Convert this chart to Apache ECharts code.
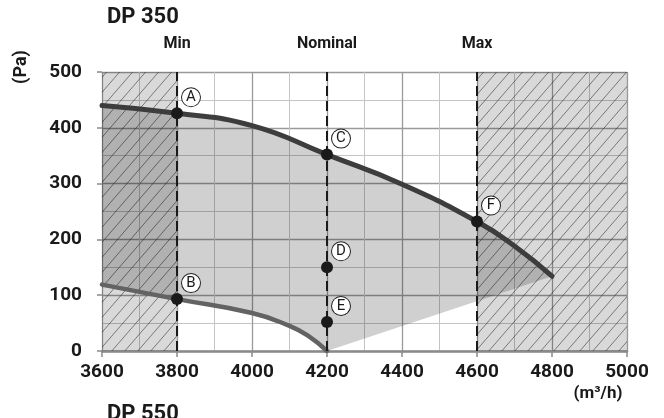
<!DOCTYPE html>
<html>
<head>
<meta charset="utf-8">
<script src="https://cdn.jsdelivr.net/npm/echarts@6/dist/echarts.min.js"></script>
<style>
html,body{margin:0;padding:0;background:#fff;}
#chart{width:664px;height:418px;}
</style>
</head>
<body>
<div id="chart"></div>
<script>
// ---- data ----
const upperFlow = [3600, 3800, 4000, 4200, 4400, 4600, 4700, 4800];
const upperPressure = [440, 426, 404, 352, 299, 232, 188, 134];
const lowerFlow = [3600, 3800, 4000, 4100, 4150, 4200];
const lowerPressure = [119, 93, 68, 45, 27, 0];
const edgeFlow = [4200, 4800];
const edgePressure = [0, 134];
const pointNames = ['A', 'B', 'C', 'D', 'E', 'F'];
const pointFlow = [3800, 3800, 4200, 4200, 4200, 4600];
const pointPressure = [426, 93, 352, 150, 52, 232];
const refFlow = [3800, 4200, 4600];
const refNames = ['Min', 'Nominal', 'Max'];
const hatchFrom = [3600, 4600];
const hatchTo = [3800, 5000];
const xTicks = [3600, 3800, 4000, 4200, 4400, 4600, 4800, 5000];
const yTicks = [0, 100, 200, 300, 400, 500];
const title = 'DP 350';
const nextTitle = 'DP 550';
const yName = '(Pa)';
const xName = '(m³/h)';

const SMOOTH = 0.5;
const FONT = "Roboto,'Liberation Sans',sans-serif";

// hatch pattern
function makeHatch() {
  const c = document.createElement('canvas');
  const w = 13, h = 15;
  c.width = w; c.height = h;
  const g = c.getContext('2d');
  g.fillStyle = 'rgba(0,0,0,0.15)';
  g.fillRect(0, 0, w, h);
  g.strokeStyle = 'rgba(40,40,40,0.8)';
  g.lineWidth = 0.7;
  g.beginPath();
  g.moveTo(0, h); g.lineTo(w, 0);
  g.moveTo(-w, h); g.lineTo(0, 0);
  g.moveTo(w, h); g.lineTo(2 * w, 0);
  g.stroke();
  return c;
}
const hatch = makeHatch();

function zip(a, b) { return a.map((v, i) => [v, b[i]]); }

function smoothPath(pts, start) {
  // same smoothing rule as ECharts line series, on pixel points
  const n = pts.length;
  const cpPrev = [], cpNext = [];
  for (let i = 0; i < n; i++) {
    const p = pts[i];
    const prev = pts[i - 1] || p, next = pts[i + 1] || p;
    const dx = next[0] - prev[0], dy = next[1] - prev[1];
    const l1 = Math.hypot(p[0] - prev[0], p[1] - prev[1]);
    const l2 = Math.hypot(next[0] - p[0], next[1] - p[1]);
    const r = (l1 + l2) ? l1 / (l1 + l2) : 0.5;
    cpPrev.push([p[0] - dx * SMOOTH * r, p[1] - dy * SMOOTH * r]);
    cpNext.push([p[0] + dx * SMOOTH * (1 - r), p[1] + dy * SMOOTH * (1 - r)]);
  }
  let d = (start ? 'M' : 'L') + pts[0][0] + ' ' + pts[0][1];
  for (let i = 0; i < n - 1; i++) {
    d += ' C' + cpNext[i][0] + ' ' + cpNext[i][1] + ' ' + cpPrev[i + 1][0] + ' ' + cpPrev[i + 1][1] + ' ' + pts[i + 1][0] + ' ' + pts[i + 1][1];
  }
  return d;
}

const chart = echarts.init(document.getElementById('chart'));
const option = {
  animation: false,
  backgroundColor: '#fff',
  grid: { left: 102, right: 37, top: 72, bottom: 67 },
  xAxis: {
    type: 'value', min: xTicks[0], max: xTicks[xTicks.length - 1], interval: 200,
    axisLine: { show: true, onZero: false, lineStyle: { color: '#8a8a8a', width: 2.5 } },
    axisTick: { show: true, length: 6, lineStyle: { color: '#8a8a8a', width: 1.5 } },
    axisLabel: { margin: 12, color: '#1a1a1a', fontSize: 19, fontWeight: 'bold', fontFamily: FONT, formatter: v => String(v) },
    splitLine: { show: true, lineStyle: { color: '#9a9a9a', width: 1.3 } },
    minorTick: { show: false, splitNumber: 2 },
    minorSplitLine: { show: true, lineStyle: { color: '#c4c4c4', width: 1 } }
  },
  yAxis: {
    type: 'value', min: yTicks[0], max: yTicks[yTicks.length - 1], interval: 100,
    axisLine: { show: false },
    axisTick: { show: true, length: 5, lineStyle: { color: '#8a8a8a', width: 1.5 } },
    axisLabel: { margin: 20, color: '#1a1a1a', fontSize: 19, fontWeight: 'bold', fontFamily: FONT, formatter: v => String(v) },
    splitLine: { show: true, lineStyle: { color: '#9a9a9a', width: 1.3 } },
    minorTick: { show: false, splitNumber: 2 },
    minorSplitLine: { show: true, lineStyle: { color: '#c4c4c4', width: 1 } }
  },
  graphic: [
    { type: 'text', left: 107, top: 6, style: { text: title, font: 'bold 22px ' + FONT, fill: '#1a1a1a' } },
    { type: 'text', left: 107, top: 403, style: { text: nextTitle, font: 'bold 22px ' + FONT, fill: '#1a1a1a' } },
    { type: 'text', x: 21, y: 67, rotation: Math.PI / 2, style: { text: yName, font: 'bold 18px ' + FONT, fill: '#1a1a1a', textAlign: 'center', textVerticalAlign: 'middle' } },
    { type: 'text', x: 598, y: 394, style: { text: xName, font: 'bold 17px ' + FONT, fill: '#1a1a1a', textAlign: 'center', textVerticalAlign: 'middle' } }
  ],
  series: [
    {
      type: 'custom', name: 'hatch', z: 1, silent: true,
      data: hatchFrom.map((v, i) => [v, hatchTo[i]]),
      renderItem: function (params, api) {
        const p0 = api.coord([api.value(0), yTicks[yTicks.length - 1]]);
        const p1 = api.coord([api.value(1), yTicks[0]]);
        return { type: 'rect', shape: { x: p0[0], y: p0[1], width: p1[0] - p0[0], height: p1[1] - p0[1] },
          style: { fill: { image: hatch, repeat: 'repeat' } } };
      }
    },
    {
      type: 'custom', name: 'area', z: 2, silent: true,
      data: [[edgeFlow[0], edgePressure[0]]],
      renderItem: function (params, api) {
        const up = zip(upperFlow, upperPressure).map(p => api.coord(p));
        const lo = zip(lowerFlow, lowerPressure).map(p => api.coord(p)).reverse();
        const e0 = api.coord([edgeFlow[0], edgePressure[0]]);
        let d = smoothPath(up, true);
        d += ' L' + e0[0] + ' ' + e0[1];
        d += ' ' + smoothPath(lo, false) + ' Z';
        return { type: 'path', shape: { pathData: d }, style: { fill: 'rgba(0,0,0,0.185)' } };
      }
    },
    {
      type: 'line', name: 'upper', z: 4, smooth: SMOOTH, showSymbol: false, silent: true,
      data: zip(upperFlow, upperPressure),
      lineStyle: { color: '#3d3d3d', width: 5, cap: 'round' }
    },
    {
      type: 'line', name: 'lower', z: 4, smooth: SMOOTH, showSymbol: false, silent: true,
      data: zip(lowerFlow, lowerPressure),
      lineStyle: { color: '#636363', width: 4.5, cap: 'round' }
    },
    {
      type: 'line', name: 'refs', z: 3, data: [], silent: true,
      markLine: {
        silent: true, symbol: 'none', animation: false,
        lineStyle: { color: '#1a1a1a', width: 2, type: [10, 5] },
        label: { show: true, position: 'end', distance: 20, formatter: '{b}', color: '#1a1a1a', fontSize: 16, fontWeight: 'bold', fontFamily: FONT },
        data: refFlow.map((v, i) => [
          { coord: [v, yTicks[0]], name: refNames[i] },
          { coord: [v, yTicks[yTicks.length - 1]] }
        ])
      }
    },
    {
      type: 'scatter', name: 'points', z: 5, symbolSize: 12, silent: true,
      itemStyle: { color: '#1a1a1a', opacity: 1 },
      data: pointNames.map((n, i) => ({ name: n, value: [pointFlow[i], pointPressure[i]] })),
      label: {
        show: true, position: 'inside', offset: [14, -16],
        formatter: p => '{c|' + p.name + '}',
        rich: {
          c: { width: 18, height: 18, lineHeight: 19, borderRadius: 9, borderWidth: 1, borderColor: '#222',
               backgroundColor: '#fff', align: 'center', verticalAlign: 'middle', fontSize: 15, fontFamily: FONT, color: '#1a1a1a' }
        }
      }
    }
  ]
};
chart.setOption(option);
</script>
</body>
</html>
